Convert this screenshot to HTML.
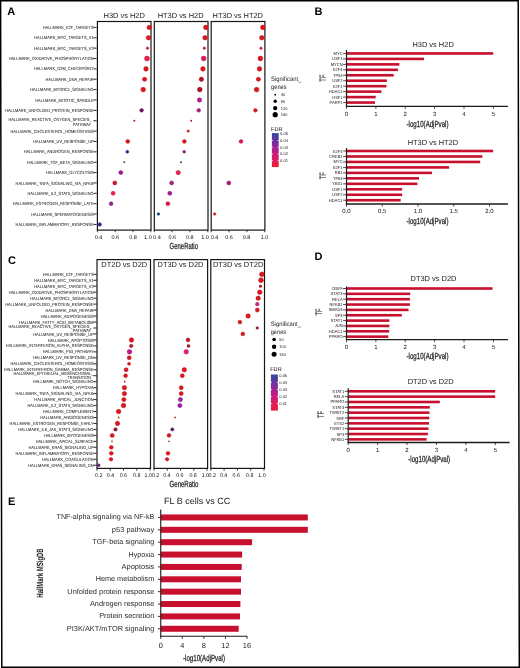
<!DOCTYPE html>
<html><head><meta charset="utf-8"><style>
html,body{margin:0;padding:0;background:#fff;width:520px;height:668px;overflow:hidden}
svg{display:block;font-family:"Liberation Sans", sans-serif;will-change:transform;text-rendering:geometricPrecision}
</style></head><body>
<svg width="520" height="668" viewBox="0 0 520 668">
<rect x="0" y="0" width="520" height="668" fill="#fff"/>
<path d="M0.6,0.75 L518.2,0.75 L519.3,667.2 L1.8,667.2 Z" fill="none" stroke="#000" stroke-width="1.5"/>
<text x="7.30" y="15.20" font-size="11" text-anchor="start" fill="#000" font-weight="bold">A</text>
<text x="314.60" y="15.40" font-size="11" text-anchor="start" fill="#000" font-weight="bold">B</text>
<text x="8.00" y="264.30" font-size="11" text-anchor="start" fill="#000" font-weight="bold">C</text>
<text x="314.60" y="260.00" font-size="11" text-anchor="start" fill="#000" font-weight="bold">D</text>
<text x="8.10" y="505.10" font-size="11" text-anchor="start" fill="#000" font-weight="bold">E</text>
<text x="93.60" y="29.00" font-size="4.5" text-anchor="end" fill="#000" font-weight="normal" textLength="50.9" lengthAdjust="spacingAndGlyphs">HALLMARK_E2F_TARGETS</text>
<line x1="93.40" y1="27.40" x2="96.60" y2="27.40" stroke="#222" stroke-width="0.95"/>
<text x="93.60" y="39.37" font-size="4.5" text-anchor="end" fill="#000" font-weight="normal" textLength="59.4" lengthAdjust="spacingAndGlyphs">HALLMARK_MYC_TARGETS_V1</text>
<line x1="93.40" y1="37.77" x2="96.60" y2="37.77" stroke="#222" stroke-width="0.95"/>
<text x="93.60" y="49.74" font-size="4.5" text-anchor="end" fill="#000" font-weight="normal" textLength="59.4" lengthAdjust="spacingAndGlyphs">HALLMARK_MYC_TARGETS_V2</text>
<line x1="93.40" y1="48.14" x2="96.60" y2="48.14" stroke="#222" stroke-width="0.95"/>
<text x="93.60" y="60.11" font-size="4.5" text-anchor="end" fill="#000" font-weight="normal" textLength="84.96" lengthAdjust="spacingAndGlyphs">HALLMARK_OXIDATIVE_PHOSPHORYLATION</text>
<line x1="93.40" y1="58.51" x2="96.60" y2="58.51" stroke="#222" stroke-width="0.95"/>
<text x="93.60" y="70.48" font-size="4.5" text-anchor="end" fill="#000" font-weight="normal" textLength="59.69" lengthAdjust="spacingAndGlyphs">HALLMARK_G2M_CHECKPOINT</text>
<line x1="93.40" y1="68.88" x2="96.60" y2="68.88" stroke="#222" stroke-width="0.95"/>
<text x="93.60" y="80.85" font-size="4.5" text-anchor="end" fill="#000" font-weight="normal" textLength="48.07" lengthAdjust="spacingAndGlyphs">HALLMARK_DNA_REPAIR</text>
<line x1="93.40" y1="79.25" x2="96.60" y2="79.25" stroke="#222" stroke-width="0.95"/>
<text x="93.60" y="91.22" font-size="4.5" text-anchor="end" fill="#000" font-weight="normal" textLength="63.32" lengthAdjust="spacingAndGlyphs">HALLMARK_MTORC1_SIGNALING</text>
<line x1="93.40" y1="89.62" x2="96.60" y2="89.62" stroke="#222" stroke-width="0.95"/>
<text x="93.60" y="101.59" font-size="4.5" text-anchor="end" fill="#000" font-weight="normal" textLength="58.31" lengthAdjust="spacingAndGlyphs">HALLMARK_MITOTIC_SPINDLE</text>
<line x1="93.40" y1="99.99" x2="96.60" y2="99.99" stroke="#222" stroke-width="0.95"/>
<text x="93.60" y="111.96" font-size="4.5" text-anchor="end" fill="#000" font-weight="normal" textLength="88.44" lengthAdjust="spacingAndGlyphs">HALLMARK_UNFOLDED_PROTEIN_RESPONSE</text>
<line x1="93.40" y1="110.36" x2="96.60" y2="110.36" stroke="#222" stroke-width="0.95"/>
<text x="91.60" y="120.63" font-size="4.5" text-anchor="end" fill="#000" font-weight="normal" textLength="83.22" lengthAdjust="spacingAndGlyphs">HALLMARK_REACTIVE_OXYGEN_SPECIES_</text>
<text x="91.20" y="125.53" font-size="4.5" text-anchor="end" fill="#000" font-weight="normal" textLength="18.37" lengthAdjust="spacingAndGlyphs">PATHWAY</text>
<line x1="93.40" y1="120.73" x2="96.60" y2="120.73" stroke="#222" stroke-width="0.95"/>
<text x="93.60" y="132.70" font-size="4.5" text-anchor="end" fill="#000" font-weight="normal" textLength="83.14" lengthAdjust="spacingAndGlyphs">HALLMARK_CHOLESTEROL_HOMEOSTASIS</text>
<line x1="93.40" y1="131.10" x2="96.60" y2="131.10" stroke="#222" stroke-width="0.95"/>
<text x="93.60" y="143.07" font-size="4.5" text-anchor="end" fill="#000" font-weight="normal" textLength="60.35" lengthAdjust="spacingAndGlyphs">HALLMARK_UV_RESPONSE_UP</text>
<line x1="93.40" y1="141.47" x2="96.60" y2="141.47" stroke="#222" stroke-width="0.95"/>
<text x="93.60" y="153.44" font-size="4.5" text-anchor="end" fill="#000" font-weight="normal" textLength="69.93" lengthAdjust="spacingAndGlyphs">HALLMARK_ANDROGEN_RESPONSE</text>
<line x1="93.40" y1="151.84" x2="96.60" y2="151.84" stroke="#222" stroke-width="0.95"/>
<text x="93.60" y="163.81" font-size="4.5" text-anchor="end" fill="#000" font-weight="normal" textLength="66.8" lengthAdjust="spacingAndGlyphs">HALLMARK_TGF_BETA_SIGNALING</text>
<line x1="93.40" y1="162.21" x2="96.60" y2="162.21" stroke="#222" stroke-width="0.95"/>
<text x="93.60" y="174.18" font-size="4.5" text-anchor="end" fill="#000" font-weight="normal" textLength="47.57" lengthAdjust="spacingAndGlyphs">HALLMARK_GLYCOLYSIS</text>
<line x1="93.40" y1="172.58" x2="96.60" y2="172.58" stroke="#222" stroke-width="0.95"/>
<text x="93.60" y="184.55" font-size="4.5" text-anchor="end" fill="#000" font-weight="normal" textLength="77.99" lengthAdjust="spacingAndGlyphs">HALLMARK_TNFA_SIGNALING_VIA_NFKB</text>
<line x1="93.40" y1="182.95" x2="96.60" y2="182.95" stroke="#222" stroke-width="0.95"/>
<text x="93.60" y="194.92" font-size="4.5" text-anchor="end" fill="#000" font-weight="normal" textLength="66.08" lengthAdjust="spacingAndGlyphs">HALLMARK_IL2_STAT5_SIGNALING</text>
<line x1="93.40" y1="193.32" x2="96.60" y2="193.32" stroke="#222" stroke-width="0.95"/>
<text x="93.60" y="205.29" font-size="4.5" text-anchor="end" fill="#000" font-weight="normal" textLength="80.97" lengthAdjust="spacingAndGlyphs">HALLMARK_ESTROGEN_RESPONSE_LATE</text>
<line x1="93.40" y1="203.69" x2="96.60" y2="203.69" stroke="#222" stroke-width="0.95"/>
<text x="93.60" y="215.66" font-size="4.5" text-anchor="end" fill="#000" font-weight="normal" textLength="62.38" lengthAdjust="spacingAndGlyphs">HALLMARK_SPERMATOGENESIS</text>
<line x1="93.40" y1="214.06" x2="96.60" y2="214.06" stroke="#222" stroke-width="0.95"/>
<text x="93.60" y="226.03" font-size="4.5" text-anchor="end" fill="#000" font-weight="normal" textLength="77.99" lengthAdjust="spacingAndGlyphs">HALLMARK_INFLAMMATORY_RESPONSE</text>
<line x1="93.40" y1="224.43" x2="96.60" y2="224.43" stroke="#222" stroke-width="0.95"/>
<rect x="97.40" y="21.50" width="53.60" height="208.60" fill="none" stroke="#161616" stroke-width="1.2"/>
<text x="124.20" y="17.80" font-size="7.45" text-anchor="middle" fill="#1a1a1a" font-weight="normal">H3D vs H2D</text>
<line x1="97.40" y1="230.10" x2="97.40" y2="232.20" stroke="#222" stroke-width="0.9"/>
<line x1="115.20" y1="230.10" x2="115.20" y2="232.20" stroke="#222" stroke-width="0.9"/>
<line x1="133.00" y1="230.10" x2="133.00" y2="232.20" stroke="#222" stroke-width="0.9"/>
<line x1="150.80" y1="230.10" x2="150.80" y2="232.20" stroke="#222" stroke-width="0.9"/>
<rect x="154.30" y="21.50" width="53.70" height="208.60" fill="none" stroke="#161616" stroke-width="1.2"/>
<text x="180.60" y="17.80" font-size="7.45" text-anchor="middle" fill="#1a1a1a" font-weight="normal">HT3D vs H2D</text>
<line x1="154.30" y1="230.10" x2="154.30" y2="232.20" stroke="#222" stroke-width="0.9"/>
<line x1="172.13" y1="230.10" x2="172.13" y2="232.20" stroke="#222" stroke-width="0.9"/>
<line x1="189.97" y1="230.10" x2="189.97" y2="232.20" stroke="#222" stroke-width="0.9"/>
<line x1="207.80" y1="230.10" x2="207.80" y2="232.20" stroke="#222" stroke-width="0.9"/>
<rect x="211.20" y="21.50" width="53.70" height="208.60" fill="none" stroke="#161616" stroke-width="1.2"/>
<text x="237.80" y="17.80" font-size="7.45" text-anchor="middle" fill="#1a1a1a" font-weight="normal">HT3D vs HT2D</text>
<line x1="211.20" y1="230.10" x2="211.20" y2="232.20" stroke="#222" stroke-width="0.9"/>
<line x1="229.03" y1="230.10" x2="229.03" y2="232.20" stroke="#222" stroke-width="0.9"/>
<line x1="246.87" y1="230.10" x2="246.87" y2="232.20" stroke="#222" stroke-width="0.9"/>
<line x1="264.70" y1="230.10" x2="264.70" y2="232.20" stroke="#222" stroke-width="0.9"/>
<text x="98.60" y="238.70" font-size="5.5" text-anchor="middle" fill="#111" font-weight="normal">0.4</text>
<text x="115.30" y="238.70" font-size="5.5" text-anchor="middle" fill="#111" font-weight="normal">0.6</text>
<text x="133.10" y="238.70" font-size="5.5" text-anchor="middle" fill="#111" font-weight="normal">0.8</text>
<text x="147.90" y="238.70" font-size="5.5" text-anchor="middle" fill="#111" font-weight="normal">1.0</text>
<text x="156.90" y="238.70" font-size="5.5" text-anchor="middle" fill="#111" font-weight="normal">0.4</text>
<text x="172.30" y="238.70" font-size="5.5" text-anchor="middle" fill="#111" font-weight="normal">0.6</text>
<text x="189.80" y="238.70" font-size="5.5" text-anchor="middle" fill="#111" font-weight="normal">0.8</text>
<text x="205.00" y="238.70" font-size="5.5" text-anchor="middle" fill="#111" font-weight="normal">1.0</text>
<text x="214.60" y="238.70" font-size="5.5" text-anchor="middle" fill="#111" font-weight="normal">0.4</text>
<text x="229.00" y="238.70" font-size="5.5" text-anchor="middle" fill="#111" font-weight="normal">0.6</text>
<text x="246.60" y="238.70" font-size="5.5" text-anchor="middle" fill="#111" font-weight="normal">0.8</text>
<text x="264.50" y="238.70" font-size="5.5" text-anchor="middle" fill="#111" font-weight="normal">1.0</text>
<text x="183.80" y="249.00" font-size="8.8" text-anchor="middle" fill="#222" font-weight="normal" textLength="28.4" lengthAdjust="spacingAndGlyphs" stroke="#222" stroke-width="0.25">GeneRatio</text>
<circle cx="149.20" cy="27.40" r="2.20" fill="#e0141c" stroke="#b71016" stroke-width="0.5"/>
<circle cx="148.40" cy="37.77" r="2.20" fill="#e0141c" stroke="#b71016" stroke-width="0.5"/>
<circle cx="147.50" cy="48.14" r="1.20" fill="#e0141c" stroke="#b71016" stroke-width="0.5"/>
<circle cx="147.00" cy="58.51" r="2.50" fill="#e8204c" stroke="#be1a3e" stroke-width="0.5"/>
<circle cx="146.00" cy="68.88" r="2.30" fill="#e0141c" stroke="#b71016" stroke-width="0.5"/>
<circle cx="144.60" cy="79.25" r="2.10" fill="#e0141c" stroke="#b71016" stroke-width="0.5"/>
<circle cx="143.20" cy="89.62" r="2.30" fill="#e0141c" stroke="#b71016" stroke-width="0.5"/>
<circle cx="141.60" cy="110.36" r="1.80" fill="#6a1060" stroke="#560d4e" stroke-width="0.5"/>
<circle cx="134.30" cy="120.73" r="1.00" fill="#b5122a"/>
<circle cx="127.70" cy="141.47" r="1.90" fill="#e0141c" stroke="#b71016" stroke-width="0.5"/>
<circle cx="127.30" cy="151.84" r="1.50" fill="#1c3c8c" stroke="#163172" stroke-width="0.5"/>
<circle cx="124.30" cy="162.21" r="0.90" fill="#1c3c8c"/>
<circle cx="120.80" cy="172.58" r="2.00" fill="#a01890" stroke="#831376" stroke-width="0.5"/>
<circle cx="114.80" cy="182.95" r="2.00" fill="#d01020" stroke="#aa0d1a" stroke-width="0.5"/>
<circle cx="113.10" cy="193.32" r="2.00" fill="#e8204c" stroke="#be1a3e" stroke-width="0.5"/>
<circle cx="111.10" cy="203.69" r="1.90" fill="#902090" stroke="#761a76" stroke-width="0.5"/>
<circle cx="99.70" cy="224.43" r="1.80" fill="#402090" stroke="#341a76" stroke-width="0.5"/>
<circle cx="205.80" cy="27.40" r="2.30" fill="#e0141c" stroke="#b71016" stroke-width="0.5"/>
<circle cx="205.00" cy="37.77" r="2.30" fill="#e0141c" stroke="#b71016" stroke-width="0.5"/>
<circle cx="204.30" cy="48.14" r="1.20" fill="#e0141c" stroke="#b71016" stroke-width="0.5"/>
<circle cx="203.70" cy="58.51" r="2.40" fill="#d81b55" stroke="#b11645" stroke-width="0.5"/>
<circle cx="202.90" cy="68.88" r="2.30" fill="#e0141c" stroke="#b71016" stroke-width="0.5"/>
<circle cx="201.40" cy="79.25" r="2.20" fill="#b5122a" stroke="#940e22" stroke-width="0.5"/>
<circle cx="199.80" cy="89.62" r="2.40" fill="#b01020" stroke="#900d1a" stroke-width="0.5"/>
<circle cx="199.50" cy="99.99" r="2.20" fill="#c0168c" stroke="#9d1272" stroke-width="0.5"/>
<circle cx="198.70" cy="110.36" r="1.80" fill="#b0127e" stroke="#900e67" stroke-width="0.5"/>
<circle cx="191.20" cy="120.73" r="1.00" fill="#b5122a"/>
<circle cx="188.20" cy="131.10" r="1.20" fill="#e0141c" stroke="#b71016" stroke-width="0.5"/>
<circle cx="184.40" cy="141.47" r="1.90" fill="#e0141c" stroke="#b71016" stroke-width="0.5"/>
<circle cx="184.20" cy="151.84" r="1.40" fill="#802080" stroke="#681a68" stroke-width="0.5"/>
<circle cx="181.00" cy="162.21" r="0.90" fill="#501030"/>
<circle cx="178.20" cy="172.58" r="2.20" fill="#e8204c" stroke="#be1a3e" stroke-width="0.5"/>
<circle cx="171.60" cy="182.95" r="2.00" fill="#a0208c" stroke="#831a72" stroke-width="0.5"/>
<circle cx="169.80" cy="193.32" r="2.00" fill="#a0208c" stroke="#831a72" stroke-width="0.5"/>
<circle cx="167.90" cy="203.69" r="2.00" fill="#e01848" stroke="#b7133b" stroke-width="0.5"/>
<circle cx="158.40" cy="214.06" r="1.30" fill="#104080" stroke="#0d3468" stroke-width="0.5"/>
<circle cx="262.80" cy="27.40" r="2.30" fill="#e0141c" stroke="#b71016" stroke-width="0.5"/>
<circle cx="261.80" cy="37.77" r="2.30" fill="#e0141c" stroke="#b71016" stroke-width="0.5"/>
<circle cx="261.00" cy="48.14" r="1.20" fill="#e0141c" stroke="#b71016" stroke-width="0.5"/>
<circle cx="260.40" cy="58.51" r="2.40" fill="#e0141c" stroke="#b71016" stroke-width="0.5"/>
<circle cx="259.50" cy="68.88" r="2.30" fill="#e0141c" stroke="#b71016" stroke-width="0.5"/>
<circle cx="258.40" cy="79.25" r="2.10" fill="#e0141c" stroke="#b71016" stroke-width="0.5"/>
<circle cx="256.60" cy="89.62" r="2.40" fill="#e0141c" stroke="#b71016" stroke-width="0.5"/>
<circle cx="255.40" cy="110.36" r="1.80" fill="#e0141c" stroke="#b71016" stroke-width="0.5"/>
<circle cx="241.00" cy="141.47" r="1.90" fill="#e0186a" stroke="#b71356" stroke-width="0.5"/>
<circle cx="228.80" cy="182.95" r="2.00" fill="#a01888" stroke="#83136f" stroke-width="0.5"/>
<circle cx="214.70" cy="214.06" r="1.20" fill="#e0141c" stroke="#b71016" stroke-width="0.5"/>
<text x="271.10" y="81.20" font-size="6.4" text-anchor="start" fill="#222" font-weight="normal" textLength="30.2" lengthAdjust="spacingAndGlyphs">Significant_</text>
<text x="271.10" y="88.60" font-size="6.4" text-anchor="start" fill="#222" font-weight="normal" textLength="15.5" lengthAdjust="spacingAndGlyphs">genes</text>
<circle cx="275.20" cy="94.70" r="0.90" fill="#000"/>
<text x="280.80" y="96.10" font-size="4.3" text-anchor="start" fill="#222" font-weight="normal" textLength="4.34" lengthAdjust="spacingAndGlyphs">40</text>
<circle cx="275.20" cy="101.30" r="1.70" fill="#000"/>
<text x="280.80" y="102.70" font-size="4.3" text-anchor="start" fill="#222" font-weight="normal" textLength="4.34" lengthAdjust="spacingAndGlyphs">80</text>
<circle cx="275.20" cy="108.10" r="2.20" fill="#000"/>
<text x="280.80" y="109.50" font-size="4.3" text-anchor="start" fill="#222" font-weight="normal" textLength="6.51" lengthAdjust="spacingAndGlyphs">120</text>
<circle cx="275.20" cy="114.70" r="2.60" fill="#000"/>
<text x="280.80" y="116.10" font-size="4.3" text-anchor="start" fill="#222" font-weight="normal" textLength="6.51" lengthAdjust="spacingAndGlyphs">160</text>
<text x="271.10" y="131.20" font-size="5.6" text-anchor="start" fill="#222" font-weight="normal">FDR</text>
<defs><linearGradient id="g133" x1="0" y1="0" x2="0" y2="1"><stop offset="0" stop-color="#3848a2"/><stop offset="0.3" stop-color="#7a2c9c"/><stop offset="0.55" stop-color="#c21a8a"/><stop offset="0.8" stop-color="#e01e5a"/><stop offset="1" stop-color="#ee1c30"/></linearGradient></defs>
<rect x="271.90" y="133.10" width="6.80" height="34.00" fill="url(#g133)"/>
<text x="280.10" y="135.20" font-size="4.3" text-anchor="start" fill="#222" font-weight="normal" textLength="7.8" lengthAdjust="spacingAndGlyphs">0.05</text>
<text x="280.10" y="141.92" font-size="4.3" text-anchor="start" fill="#222" font-weight="normal" textLength="7.8" lengthAdjust="spacingAndGlyphs">0.04</text>
<line x1="271.90" y1="140.52" x2="273.10" y2="140.52" stroke="#fff" stroke-width="0.7"/>
<line x1="277.50" y1="140.52" x2="278.70" y2="140.52" stroke="#fff" stroke-width="0.7"/>
<text x="280.10" y="148.64" font-size="4.3" text-anchor="start" fill="#222" font-weight="normal" textLength="7.8" lengthAdjust="spacingAndGlyphs">0.03</text>
<line x1="271.90" y1="147.24" x2="273.10" y2="147.24" stroke="#fff" stroke-width="0.7"/>
<line x1="277.50" y1="147.24" x2="278.70" y2="147.24" stroke="#fff" stroke-width="0.7"/>
<text x="280.10" y="155.36" font-size="4.3" text-anchor="start" fill="#222" font-weight="normal" textLength="7.8" lengthAdjust="spacingAndGlyphs">0.02</text>
<line x1="271.90" y1="153.96" x2="273.10" y2="153.96" stroke="#fff" stroke-width="0.7"/>
<line x1="277.50" y1="153.96" x2="278.70" y2="153.96" stroke="#fff" stroke-width="0.7"/>
<text x="280.10" y="162.08" font-size="4.3" text-anchor="start" fill="#222" font-weight="normal" textLength="7.8" lengthAdjust="spacingAndGlyphs">0.01</text>
<line x1="271.90" y1="160.68" x2="273.10" y2="160.68" stroke="#fff" stroke-width="0.7"/>
<line x1="277.50" y1="160.68" x2="278.70" y2="160.68" stroke="#fff" stroke-width="0.7"/>
<text x="93.60" y="275.90" font-size="4.5" text-anchor="end" fill="#000" font-weight="normal" textLength="50.9" lengthAdjust="spacingAndGlyphs">HALLMARK_E2F_TARGETS</text>
<line x1="93.40" y1="274.30" x2="96.60" y2="274.30" stroke="#222" stroke-width="0.95"/>
<text x="93.60" y="281.87" font-size="4.5" text-anchor="end" fill="#000" font-weight="normal" textLength="59.4" lengthAdjust="spacingAndGlyphs">HALLMARK_MYC_TARGETS_V1</text>
<line x1="93.40" y1="280.27" x2="96.60" y2="280.27" stroke="#222" stroke-width="0.95"/>
<text x="93.60" y="287.83" font-size="4.5" text-anchor="end" fill="#000" font-weight="normal" textLength="59.4" lengthAdjust="spacingAndGlyphs">HALLMARK_MYC_TARGETS_V2</text>
<line x1="93.40" y1="286.23" x2="96.60" y2="286.23" stroke="#222" stroke-width="0.95"/>
<text x="93.60" y="293.80" font-size="4.5" text-anchor="end" fill="#000" font-weight="normal" textLength="84.96" lengthAdjust="spacingAndGlyphs">HALLMARK_OXIDATIVE_PHOSPHORYLATION</text>
<line x1="93.40" y1="292.20" x2="96.60" y2="292.20" stroke="#222" stroke-width="0.95"/>
<text x="93.60" y="299.76" font-size="4.5" text-anchor="end" fill="#000" font-weight="normal" textLength="63.32" lengthAdjust="spacingAndGlyphs">HALLMARK_MTORC1_SIGNALING</text>
<line x1="93.40" y1="298.16" x2="96.60" y2="298.16" stroke="#222" stroke-width="0.95"/>
<text x="93.60" y="305.73" font-size="4.5" text-anchor="end" fill="#000" font-weight="normal" textLength="88.44" lengthAdjust="spacingAndGlyphs">HALLMARK_UNFOLDED_PROTEIN_RESPONSE</text>
<line x1="93.40" y1="304.13" x2="96.60" y2="304.13" stroke="#222" stroke-width="0.95"/>
<text x="93.60" y="311.70" font-size="4.5" text-anchor="end" fill="#000" font-weight="normal" textLength="48.07" lengthAdjust="spacingAndGlyphs">HALLMARK_DNA_REPAIR</text>
<line x1="93.40" y1="310.10" x2="96.60" y2="310.10" stroke="#222" stroke-width="0.95"/>
<text x="93.60" y="317.66" font-size="4.5" text-anchor="end" fill="#000" font-weight="normal" textLength="52.94" lengthAdjust="spacingAndGlyphs">HALLMARK_ADIPOGENESIS</text>
<line x1="93.40" y1="316.06" x2="96.60" y2="316.06" stroke="#222" stroke-width="0.95"/>
<text x="93.60" y="323.63" font-size="4.5" text-anchor="end" fill="#000" font-weight="normal" textLength="74.35" lengthAdjust="spacingAndGlyphs">HALLMARK_FATTY_ACID_METABOLISM</text>
<line x1="93.40" y1="322.03" x2="96.60" y2="322.03" stroke="#222" stroke-width="0.95"/>
<text x="91.60" y="327.89" font-size="4.5" text-anchor="end" fill="#000" font-weight="normal" textLength="83.22" lengthAdjust="spacingAndGlyphs">HALLMARK_REACTIVE_OXYGEN_SPECIES_</text>
<text x="91.20" y="331.79" font-size="4.5" text-anchor="end" fill="#000" font-weight="normal" textLength="18.37" lengthAdjust="spacingAndGlyphs">PATHWAY</text>
<line x1="93.40" y1="327.99" x2="96.60" y2="327.99" stroke="#222" stroke-width="0.95"/>
<text x="93.60" y="335.56" font-size="4.5" text-anchor="end" fill="#000" font-weight="normal" textLength="60.35" lengthAdjust="spacingAndGlyphs">HALLMARK_UV_RESPONSE_UP</text>
<line x1="93.40" y1="333.96" x2="96.60" y2="333.96" stroke="#222" stroke-width="0.95"/>
<text x="93.60" y="341.53" font-size="4.5" text-anchor="end" fill="#000" font-weight="normal" textLength="45.9" lengthAdjust="spacingAndGlyphs">HALLMARK_APOPTOSIS</text>
<line x1="93.40" y1="339.93" x2="96.60" y2="339.93" stroke="#222" stroke-width="0.95"/>
<text x="93.60" y="347.49" font-size="4.5" text-anchor="end" fill="#000" font-weight="normal" textLength="87.79" lengthAdjust="spacingAndGlyphs">HALLMARK_INTERFERON_ALPHA_RESPONSE</text>
<line x1="93.40" y1="345.89" x2="96.60" y2="345.89" stroke="#222" stroke-width="0.95"/>
<text x="93.60" y="353.46" font-size="4.5" text-anchor="end" fill="#000" font-weight="normal" textLength="50.83" lengthAdjust="spacingAndGlyphs">HALLMARK_P53_PATHWAY</text>
<line x1="93.40" y1="351.86" x2="96.60" y2="351.86" stroke="#222" stroke-width="0.95"/>
<text x="93.60" y="359.42" font-size="4.5" text-anchor="end" fill="#000" font-weight="normal" textLength="60.56" lengthAdjust="spacingAndGlyphs">HALLMARK_UV_RESPONSE_DN</text>
<line x1="93.40" y1="357.82" x2="96.60" y2="357.82" stroke="#222" stroke-width="0.95"/>
<text x="93.60" y="365.39" font-size="4.5" text-anchor="end" fill="#000" font-weight="normal" textLength="83.14" lengthAdjust="spacingAndGlyphs">HALLMARK_CHOLESTEROL_HOMEOSTASIS</text>
<line x1="93.40" y1="363.79" x2="96.60" y2="363.79" stroke="#222" stroke-width="0.95"/>
<text x="93.60" y="371.36" font-size="4.5" text-anchor="end" fill="#000" font-weight="normal" textLength="89.74" lengthAdjust="spacingAndGlyphs">HALLMARK_INTERFERON_GAMMA_RESPONSE</text>
<line x1="93.40" y1="369.76" x2="96.60" y2="369.76" stroke="#222" stroke-width="0.95"/>
<text x="93.60" y="375.32" font-size="4.5" text-anchor="end" fill="#000" font-weight="normal" textLength="80.17" lengthAdjust="spacingAndGlyphs">HALLMARK_EPITHELIAL_MESENCHYMAL_</text>
<text x="91.20" y="379.22" font-size="4.5" text-anchor="end" fill="#000" font-weight="normal" textLength="23.74" lengthAdjust="spacingAndGlyphs">TRANSITION</text>
<line x1="93.40" y1="375.72" x2="96.60" y2="375.72" stroke="#222" stroke-width="0.95"/>
<text x="93.60" y="383.29" font-size="4.5" text-anchor="end" fill="#000" font-weight="normal" textLength="60.77" lengthAdjust="spacingAndGlyphs">HALLMARK_NOTCH_SIGNALING</text>
<line x1="93.40" y1="381.69" x2="96.60" y2="381.69" stroke="#222" stroke-width="0.95"/>
<text x="93.60" y="389.25" font-size="4.5" text-anchor="end" fill="#000" font-weight="normal" textLength="40.74" lengthAdjust="spacingAndGlyphs">HALLMARK_HYPOXIA</text>
<line x1="93.40" y1="387.65" x2="96.60" y2="387.65" stroke="#222" stroke-width="0.95"/>
<text x="93.60" y="395.22" font-size="4.5" text-anchor="end" fill="#000" font-weight="normal" textLength="77.99" lengthAdjust="spacingAndGlyphs">HALLMARK_TNFA_SIGNALING_VIA_NFKB</text>
<line x1="93.40" y1="393.62" x2="96.60" y2="393.62" stroke="#222" stroke-width="0.95"/>
<text x="93.60" y="401.19" font-size="4.5" text-anchor="end" fill="#000" font-weight="normal" textLength="59.25" lengthAdjust="spacingAndGlyphs">HALLMARK_APICAL_JUNCTION</text>
<line x1="93.40" y1="399.59" x2="96.60" y2="399.59" stroke="#222" stroke-width="0.95"/>
<text x="93.60" y="407.15" font-size="4.5" text-anchor="end" fill="#000" font-weight="normal" textLength="66.08" lengthAdjust="spacingAndGlyphs">HALLMARK_IL2_STAT5_SIGNALING</text>
<line x1="93.40" y1="405.55" x2="96.60" y2="405.55" stroke="#222" stroke-width="0.95"/>
<text x="93.60" y="413.12" font-size="4.5" text-anchor="end" fill="#000" font-weight="normal" textLength="50.97" lengthAdjust="spacingAndGlyphs">HALLMARK_COMPLEMENT</text>
<line x1="93.40" y1="411.52" x2="96.60" y2="411.52" stroke="#222" stroke-width="0.95"/>
<text x="93.60" y="419.08" font-size="4.5" text-anchor="end" fill="#000" font-weight="normal" textLength="53.37" lengthAdjust="spacingAndGlyphs">HALLMARK_ANGIOGENESIS</text>
<line x1="93.40" y1="417.48" x2="96.60" y2="417.48" stroke="#222" stroke-width="0.95"/>
<text x="93.60" y="425.05" font-size="4.5" text-anchor="end" fill="#000" font-weight="normal" textLength="84.02" lengthAdjust="spacingAndGlyphs">HALLMARK_ESTROGEN_RESPONSE_EARLY</text>
<line x1="93.40" y1="423.45" x2="96.60" y2="423.45" stroke="#222" stroke-width="0.95"/>
<text x="93.60" y="431.02" font-size="4.5" text-anchor="end" fill="#000" font-weight="normal" textLength="75.45" lengthAdjust="spacingAndGlyphs">HALLMARK_IL6_JAK_STAT3_SIGNALING</text>
<line x1="93.40" y1="429.42" x2="96.60" y2="429.42" stroke="#222" stroke-width="0.95"/>
<text x="93.60" y="436.98" font-size="4.5" text-anchor="end" fill="#000" font-weight="normal" textLength="49.67" lengthAdjust="spacingAndGlyphs">HALLMARK_MYOGENESIS</text>
<line x1="93.40" y1="435.38" x2="96.60" y2="435.38" stroke="#222" stroke-width="0.95"/>
<text x="93.60" y="442.95" font-size="4.5" text-anchor="end" fill="#000" font-weight="normal" textLength="57.95" lengthAdjust="spacingAndGlyphs">HALLMARK_APICAL_SURFACE</text>
<line x1="93.40" y1="441.35" x2="96.60" y2="441.35" stroke="#222" stroke-width="0.95"/>
<text x="93.60" y="448.91" font-size="4.5" text-anchor="end" fill="#000" font-weight="normal" textLength="65.14" lengthAdjust="spacingAndGlyphs">HALLMARK_KRAS_SIGNALING_UP</text>
<line x1="93.40" y1="447.31" x2="96.60" y2="447.31" stroke="#222" stroke-width="0.95"/>
<text x="93.60" y="454.88" font-size="4.5" text-anchor="end" fill="#000" font-weight="normal" textLength="77.99" lengthAdjust="spacingAndGlyphs">HALLMARK_INFLAMMATORY_RESPONSE</text>
<line x1="93.40" y1="453.28" x2="96.60" y2="453.28" stroke="#222" stroke-width="0.95"/>
<text x="93.60" y="460.85" font-size="4.5" text-anchor="end" fill="#000" font-weight="normal" textLength="51.55" lengthAdjust="spacingAndGlyphs">HALLMARK_COAGULATION</text>
<line x1="93.40" y1="459.25" x2="96.60" y2="459.25" stroke="#222" stroke-width="0.95"/>
<text x="93.60" y="466.81" font-size="4.5" text-anchor="end" fill="#000" font-weight="normal" textLength="65.36" lengthAdjust="spacingAndGlyphs">HALLMARK_KRAS_SIGNALING_DN</text>
<line x1="93.40" y1="465.21" x2="96.60" y2="465.21" stroke="#222" stroke-width="0.95"/>
<rect x="97.00" y="259.60" width="53.50" height="208.80" fill="none" stroke="#161616" stroke-width="1.2"/>
<text x="124.30" y="266.80" font-size="7.45" text-anchor="middle" fill="#1a1a1a" font-weight="normal">DT2D vs D2D</text>
<line x1="97.00" y1="468.40" x2="97.00" y2="470.70" stroke="#222" stroke-width="0.9"/>
<line x1="110.25" y1="468.40" x2="110.25" y2="470.70" stroke="#222" stroke-width="0.9"/>
<line x1="123.50" y1="468.40" x2="123.50" y2="470.70" stroke="#222" stroke-width="0.9"/>
<line x1="136.75" y1="468.40" x2="136.75" y2="470.70" stroke="#222" stroke-width="0.9"/>
<line x1="150.00" y1="468.40" x2="150.00" y2="470.70" stroke="#222" stroke-width="0.9"/>
<rect x="154.00" y="259.60" width="53.60" height="208.80" fill="none" stroke="#161616" stroke-width="1.2"/>
<text x="180.50" y="266.80" font-size="7.45" text-anchor="middle" fill="#1a1a1a" font-weight="normal">DT3D vs D2D</text>
<line x1="154.00" y1="468.40" x2="154.00" y2="470.70" stroke="#222" stroke-width="0.9"/>
<line x1="167.28" y1="468.40" x2="167.28" y2="470.70" stroke="#222" stroke-width="0.9"/>
<line x1="180.55" y1="468.40" x2="180.55" y2="470.70" stroke="#222" stroke-width="0.9"/>
<line x1="193.82" y1="468.40" x2="193.82" y2="470.70" stroke="#222" stroke-width="0.9"/>
<line x1="207.10" y1="468.40" x2="207.10" y2="470.70" stroke="#222" stroke-width="0.9"/>
<rect x="210.80" y="259.60" width="53.70" height="208.80" fill="none" stroke="#161616" stroke-width="1.2"/>
<text x="238.10" y="266.80" font-size="7.45" text-anchor="middle" fill="#1a1a1a" font-weight="normal">DT3D vs DT2D</text>
<line x1="210.80" y1="468.40" x2="210.80" y2="470.70" stroke="#222" stroke-width="0.9"/>
<line x1="224.10" y1="468.40" x2="224.10" y2="470.70" stroke="#222" stroke-width="0.9"/>
<line x1="237.40" y1="468.40" x2="237.40" y2="470.70" stroke="#222" stroke-width="0.9"/>
<line x1="250.70" y1="468.40" x2="250.70" y2="470.70" stroke="#222" stroke-width="0.9"/>
<line x1="264.00" y1="468.40" x2="264.00" y2="470.70" stroke="#222" stroke-width="0.9"/>
<text x="98.80" y="477.00" font-size="5.3" text-anchor="middle" fill="#111" font-weight="normal">0.2</text>
<text x="110.50" y="477.00" font-size="5.3" text-anchor="middle" fill="#111" font-weight="normal">0.4</text>
<text x="123.40" y="477.00" font-size="5.3" text-anchor="middle" fill="#111" font-weight="normal">0.6</text>
<text x="136.70" y="477.00" font-size="5.3" text-anchor="middle" fill="#111" font-weight="normal">0.8</text>
<text x="148.30" y="477.00" font-size="5.3" text-anchor="middle" fill="#111" font-weight="normal">1.0</text>
<text x="155.60" y="477.00" font-size="5.3" text-anchor="middle" fill="#111" font-weight="normal">0.2</text>
<text x="166.90" y="477.00" font-size="5.3" text-anchor="middle" fill="#111" font-weight="normal">0.4</text>
<text x="179.90" y="477.00" font-size="5.3" text-anchor="middle" fill="#111" font-weight="normal">0.6</text>
<text x="193.10" y="477.00" font-size="5.3" text-anchor="middle" fill="#111" font-weight="normal">0.8</text>
<text x="205.50" y="477.00" font-size="5.3" text-anchor="middle" fill="#111" font-weight="normal">1.0</text>
<text x="212.20" y="477.00" font-size="5.3" text-anchor="middle" fill="#111" font-weight="normal">0.2</text>
<text x="223.60" y="477.00" font-size="5.3" text-anchor="middle" fill="#111" font-weight="normal">0.4</text>
<text x="236.30" y="477.00" font-size="5.3" text-anchor="middle" fill="#111" font-weight="normal">0.6</text>
<text x="249.80" y="477.00" font-size="5.3" text-anchor="middle" fill="#111" font-weight="normal">0.8</text>
<text x="262.00" y="477.00" font-size="5.3" text-anchor="middle" fill="#111" font-weight="normal">1.0</text>
<text x="184.00" y="486.60" font-size="8.8" text-anchor="middle" fill="#222" font-weight="normal" textLength="28.8" lengthAdjust="spacingAndGlyphs" stroke="#222" stroke-width="0.25">GeneRatio</text>
<circle cx="131.50" cy="339.93" r="2.30" fill="#e0141c" stroke="#b71016" stroke-width="0.5"/>
<circle cx="131.20" cy="345.89" r="1.70" fill="#b5122a" stroke="#940e22" stroke-width="0.5"/>
<circle cx="129.50" cy="351.86" r="2.30" fill="#c0168c" stroke="#9d1272" stroke-width="0.5"/>
<circle cx="129.20" cy="357.82" r="2.00" fill="#d01818" stroke="#aa1313" stroke-width="0.5"/>
<circle cx="129.00" cy="363.79" r="1.50" fill="#e0141c" stroke="#b71016" stroke-width="0.5"/>
<circle cx="126.10" cy="369.76" r="2.00" fill="#e0141c" stroke="#b71016" stroke-width="0.5"/>
<circle cx="125.60" cy="375.72" r="1.90" fill="#e0141c" stroke="#b71016" stroke-width="0.5"/>
<circle cx="124.70" cy="381.69" r="0.90" fill="#e0141c"/>
<circle cx="124.40" cy="387.65" r="2.20" fill="#e0141c" stroke="#b71016" stroke-width="0.5"/>
<circle cx="124.40" cy="393.62" r="2.20" fill="#e0141c" stroke="#b71016" stroke-width="0.5"/>
<circle cx="123.90" cy="399.59" r="2.10" fill="#e0141c" stroke="#b71016" stroke-width="0.5"/>
<circle cx="123.50" cy="405.55" r="2.30" fill="#e0141c" stroke="#b71016" stroke-width="0.5"/>
<circle cx="118.60" cy="411.52" r="2.30" fill="#e0141c" stroke="#b71016" stroke-width="0.5"/>
<circle cx="118.60" cy="417.48" r="0.90" fill="#a0440f"/>
<circle cx="117.50" cy="423.45" r="2.20" fill="#e0141c" stroke="#b71016" stroke-width="0.5"/>
<circle cx="115.50" cy="429.42" r="1.70" fill="#901020" stroke="#760d1a" stroke-width="0.5"/>
<circle cx="112.20" cy="435.38" r="2.00" fill="#e0141c" stroke="#b71016" stroke-width="0.5"/>
<circle cx="112.00" cy="441.35" r="0.90" fill="#a0440f"/>
<circle cx="111.30" cy="447.31" r="1.90" fill="#e0141c" stroke="#b71016" stroke-width="0.5"/>
<circle cx="111.30" cy="453.28" r="1.90" fill="#e0141c" stroke="#b71016" stroke-width="0.5"/>
<circle cx="111.00" cy="459.25" r="1.80" fill="#e0141c" stroke="#b71016" stroke-width="0.5"/>
<circle cx="98.60" cy="465.21" r="1.50" fill="#702080" stroke="#5b1a68" stroke-width="0.5"/>
<circle cx="188.00" cy="339.93" r="1.90" fill="#c01020" stroke="#9d0d1a" stroke-width="0.5"/>
<circle cx="188.50" cy="345.89" r="1.50" fill="#b01020" stroke="#900d1a" stroke-width="0.5"/>
<circle cx="186.20" cy="351.86" r="2.30" fill="#e0207a" stroke="#b71a64" stroke-width="0.5"/>
<circle cx="184.30" cy="369.76" r="2.20" fill="#e0141c" stroke="#b71016" stroke-width="0.5"/>
<circle cx="182.30" cy="375.72" r="2.00" fill="#e0141c" stroke="#b71016" stroke-width="0.5"/>
<circle cx="181.20" cy="387.65" r="2.00" fill="#e0141c" stroke="#b71016" stroke-width="0.5"/>
<circle cx="181.20" cy="393.62" r="2.00" fill="#e0141c" stroke="#b71016" stroke-width="0.5"/>
<circle cx="180.40" cy="399.59" r="2.10" fill="#a020a0" stroke="#831a83" stroke-width="0.5"/>
<circle cx="179.90" cy="405.55" r="2.10" fill="#a020a0" stroke="#831a83" stroke-width="0.5"/>
<circle cx="175.00" cy="417.48" r="0.90" fill="#a0440f"/>
<circle cx="172.30" cy="429.42" r="1.60" fill="#602070" stroke="#4e1a5b" stroke-width="0.5"/>
<circle cx="169.00" cy="435.38" r="1.90" fill="#e0141c" stroke="#b71016" stroke-width="0.5"/>
<circle cx="169.00" cy="441.35" r="0.90" fill="#a0440f"/>
<circle cx="168.00" cy="453.28" r="1.90" fill="#e0141c" stroke="#b71016" stroke-width="0.5"/>
<circle cx="167.10" cy="459.25" r="1.70" fill="#e0141c" stroke="#b71016" stroke-width="0.5"/>
<circle cx="261.90" cy="274.30" r="2.40" fill="#e0141c" stroke="#b71016" stroke-width="0.5"/>
<circle cx="261.00" cy="280.27" r="2.40" fill="#e0141c" stroke="#b71016" stroke-width="0.5"/>
<circle cx="260.50" cy="286.23" r="1.30" fill="#b5122a" stroke="#940e22" stroke-width="0.5"/>
<circle cx="259.80" cy="292.20" r="2.30" fill="#e0141c" stroke="#b71016" stroke-width="0.5"/>
<circle cx="258.20" cy="298.16" r="2.20" fill="#e0141c" stroke="#b71016" stroke-width="0.5"/>
<circle cx="257.30" cy="304.13" r="1.80" fill="#d0208a" stroke="#aa1a71" stroke-width="0.5"/>
<circle cx="257.30" cy="310.10" r="2.00" fill="#e0141c" stroke="#b71016" stroke-width="0.5"/>
<circle cx="248.10" cy="316.06" r="2.20" fill="#e0141c" stroke="#b71016" stroke-width="0.5"/>
<circle cx="239.90" cy="322.03" r="1.90" fill="#e0141c" stroke="#b71016" stroke-width="0.5"/>
<circle cx="257.30" cy="327.99" r="1.30" fill="#b5122a" stroke="#940e22" stroke-width="0.5"/>
<circle cx="242.80" cy="333.96" r="1.90" fill="#e0141c" stroke="#b71016" stroke-width="0.5"/>
<text x="270.70" y="326.40" font-size="6.4" text-anchor="start" fill="#222" font-weight="normal" textLength="30.2" lengthAdjust="spacingAndGlyphs">Significant_</text>
<text x="270.70" y="333.80" font-size="6.4" text-anchor="start" fill="#222" font-weight="normal" textLength="15.5" lengthAdjust="spacingAndGlyphs">genes</text>
<circle cx="274.10" cy="339.50" r="1.80" fill="#000"/>
<text x="279.30" y="340.90" font-size="4.3" text-anchor="start" fill="#222" font-weight="normal" textLength="4.34" lengthAdjust="spacingAndGlyphs">50</text>
<circle cx="274.10" cy="346.80" r="2.20" fill="#000"/>
<text x="279.30" y="348.20" font-size="4.3" text-anchor="start" fill="#222" font-weight="normal" textLength="6.51" lengthAdjust="spacingAndGlyphs">100</text>
<circle cx="274.10" cy="354.30" r="2.50" fill="#000"/>
<text x="279.30" y="355.70" font-size="4.3" text-anchor="start" fill="#222" font-weight="normal" textLength="6.51" lengthAdjust="spacingAndGlyphs">150</text>
<text x="270.20" y="371.40" font-size="5.6" text-anchor="start" fill="#222" font-weight="normal">FDR</text>
<defs><linearGradient id="g374" x1="0" y1="0" x2="0" y2="1"><stop offset="0" stop-color="#3848a2"/><stop offset="0.3" stop-color="#7a2c9c"/><stop offset="0.55" stop-color="#c21a8a"/><stop offset="0.8" stop-color="#e01e5a"/><stop offset="1" stop-color="#ee1c30"/></linearGradient></defs>
<rect x="270.90" y="374.50" width="7.00" height="36.10" fill="url(#g374)"/>
<text x="279.30" y="376.70" font-size="4.3" text-anchor="start" fill="#222" font-weight="normal" textLength="7.8" lengthAdjust="spacingAndGlyphs">0.05</text>
<text x="279.30" y="383.78" font-size="4.3" text-anchor="start" fill="#222" font-weight="normal" textLength="7.8" lengthAdjust="spacingAndGlyphs">0.04</text>
<line x1="270.90" y1="382.38" x2="272.10" y2="382.38" stroke="#fff" stroke-width="0.7"/>
<line x1="276.70" y1="382.38" x2="277.90" y2="382.38" stroke="#fff" stroke-width="0.7"/>
<text x="279.30" y="390.86" font-size="4.3" text-anchor="start" fill="#222" font-weight="normal" textLength="7.8" lengthAdjust="spacingAndGlyphs">0.03</text>
<line x1="270.90" y1="389.46" x2="272.10" y2="389.46" stroke="#fff" stroke-width="0.7"/>
<line x1="276.70" y1="389.46" x2="277.90" y2="389.46" stroke="#fff" stroke-width="0.7"/>
<text x="279.30" y="397.94" font-size="4.3" text-anchor="start" fill="#222" font-weight="normal" textLength="7.8" lengthAdjust="spacingAndGlyphs">0.02</text>
<line x1="270.90" y1="396.54" x2="272.10" y2="396.54" stroke="#fff" stroke-width="0.7"/>
<line x1="276.70" y1="396.54" x2="277.90" y2="396.54" stroke="#fff" stroke-width="0.7"/>
<text x="279.30" y="405.02" font-size="4.3" text-anchor="start" fill="#222" font-weight="normal" textLength="7.8" lengthAdjust="spacingAndGlyphs">0.01</text>
<line x1="270.90" y1="403.62" x2="272.10" y2="403.62" stroke="#fff" stroke-width="0.7"/>
<line x1="276.70" y1="403.62" x2="277.90" y2="403.62" stroke="#fff" stroke-width="0.7"/>
<rect x="346.50" y="52.15" width="146.70" height="2.60" fill="#c8102e"/>
<text x="342.60" y="54.95" font-size="4.4" text-anchor="end" fill="#111" font-weight="normal" textLength="9.0" lengthAdjust="spacingAndGlyphs">MYC</text>
<line x1="343.10" y1="53.45" x2="346.50" y2="53.45" stroke="#222" stroke-width="0.8"/>
<rect x="346.50" y="57.61" width="77.50" height="2.60" fill="#c8102e"/>
<text x="342.60" y="60.41" font-size="4.4" text-anchor="end" fill="#111" font-weight="normal" textLength="10.35" lengthAdjust="spacingAndGlyphs">USF1</text>
<line x1="343.10" y1="58.91" x2="346.50" y2="58.91" stroke="#222" stroke-width="0.8"/>
<rect x="346.50" y="63.06" width="52.90" height="2.60" fill="#c8102e"/>
<text x="342.60" y="65.86" font-size="4.4" text-anchor="end" fill="#111" font-weight="normal" textLength="11.92" lengthAdjust="spacingAndGlyphs">MYCN</text>
<line x1="343.10" y1="64.36" x2="346.50" y2="64.36" stroke="#222" stroke-width="0.8"/>
<rect x="346.50" y="68.52" width="51.40" height="2.60" fill="#c8102e"/>
<text x="342.60" y="71.31" font-size="4.4" text-anchor="end" fill="#111" font-weight="normal" textLength="9.68" lengthAdjust="spacingAndGlyphs">E2F4</text>
<line x1="343.10" y1="69.81" x2="346.50" y2="69.81" stroke="#222" stroke-width="0.8"/>
<rect x="346.50" y="73.97" width="47.20" height="2.60" fill="#c8102e"/>
<text x="342.60" y="76.77" font-size="4.4" text-anchor="end" fill="#111" font-weight="normal" textLength="9.68" lengthAdjust="spacingAndGlyphs">TP53</text>
<line x1="343.10" y1="75.27" x2="346.50" y2="75.27" stroke="#222" stroke-width="0.8"/>
<rect x="346.50" y="79.42" width="40.40" height="2.60" fill="#c8102e"/>
<text x="342.60" y="82.22" font-size="4.4" text-anchor="end" fill="#111" font-weight="normal" textLength="10.35" lengthAdjust="spacingAndGlyphs">USF2</text>
<line x1="343.10" y1="80.72" x2="346.50" y2="80.72" stroke="#222" stroke-width="0.8"/>
<rect x="346.50" y="84.88" width="39.90" height="2.60" fill="#c8102e"/>
<text x="342.60" y="87.68" font-size="4.4" text-anchor="end" fill="#111" font-weight="normal" textLength="9.68" lengthAdjust="spacingAndGlyphs">E2F1</text>
<line x1="343.10" y1="86.18" x2="346.50" y2="86.18" stroke="#222" stroke-width="0.8"/>
<rect x="346.50" y="90.34" width="34.90" height="2.60" fill="#c8102e"/>
<text x="342.60" y="93.14" font-size="4.4" text-anchor="end" fill="#111" font-weight="normal" textLength="13.73" lengthAdjust="spacingAndGlyphs">HDAC1</text>
<line x1="343.10" y1="91.64" x2="346.50" y2="91.64" stroke="#222" stroke-width="0.8"/>
<rect x="346.50" y="95.79" width="29.20" height="2.60" fill="#c8102e"/>
<text x="342.60" y="98.59" font-size="4.4" text-anchor="end" fill="#111" font-weight="normal" textLength="10.35" lengthAdjust="spacingAndGlyphs">HSF1</text>
<line x1="343.10" y1="97.09" x2="346.50" y2="97.09" stroke="#222" stroke-width="0.8"/>
<rect x="346.50" y="101.25" width="28.50" height="2.60" fill="#c8102e"/>
<text x="342.60" y="104.05" font-size="4.4" text-anchor="end" fill="#111" font-weight="normal" textLength="12.98" lengthAdjust="spacingAndGlyphs">PARP1</text>
<line x1="343.10" y1="102.55" x2="346.50" y2="102.55" stroke="#222" stroke-width="0.8"/>
<line x1="346.50" y1="50.00" x2="346.50" y2="106.90" stroke="#1a1a1a" stroke-width="1.2"/>
<line x1="345.90" y1="106.30" x2="507.90" y2="106.30" stroke="#1a1a1a" stroke-width="1.3"/>
<line x1="346.50" y1="106.30" x2="346.50" y2="108.90" stroke="#222" stroke-width="0.8"/>
<text x="346.50" y="115.60" font-size="6.0" text-anchor="middle" fill="#111" font-weight="normal">0</text>
<line x1="375.88" y1="106.30" x2="375.88" y2="108.90" stroke="#222" stroke-width="0.8"/>
<text x="375.88" y="115.60" font-size="6.0" text-anchor="middle" fill="#111" font-weight="normal">1</text>
<line x1="405.26" y1="106.30" x2="405.26" y2="108.90" stroke="#222" stroke-width="0.8"/>
<text x="405.26" y="115.60" font-size="6.0" text-anchor="middle" fill="#111" font-weight="normal">2</text>
<line x1="434.64" y1="106.30" x2="434.64" y2="108.90" stroke="#222" stroke-width="0.8"/>
<text x="434.64" y="115.60" font-size="6.0" text-anchor="middle" fill="#111" font-weight="normal">3</text>
<line x1="464.02" y1="106.30" x2="464.02" y2="108.90" stroke="#222" stroke-width="0.8"/>
<text x="464.02" y="115.60" font-size="6.0" text-anchor="middle" fill="#111" font-weight="normal">4</text>
<line x1="493.40" y1="106.30" x2="493.40" y2="108.90" stroke="#222" stroke-width="0.8"/>
<text x="493.40" y="115.60" font-size="6.0" text-anchor="middle" fill="#111" font-weight="normal">5</text>
<text x="433.10" y="47.10" font-size="7.45" text-anchor="middle" fill="#1a1a1a" font-weight="normal">H3D vs H2D</text>
<text x="427.50" y="126.50" font-size="8.8" text-anchor="middle" fill="#222" font-weight="normal" textLength="41.9" lengthAdjust="spacingAndGlyphs" stroke="#222" stroke-width="0.25">-log10(AdjPval)</text>
<text x="0" y="0" font-size="9.2" text-anchor="middle" fill="#1a1a1a" stroke="#1a1a1a" stroke-width="0.15" textLength="7.1" lengthAdjust="spacingAndGlyphs" transform="translate(326.00,78.10) rotate(-90)">TF</text>
<rect x="346.50" y="149.70" width="146.60" height="2.60" fill="#c8102e"/>
<text x="342.60" y="152.50" font-size="4.4" text-anchor="end" fill="#111" font-weight="normal" textLength="9.68" lengthAdjust="spacingAndGlyphs">E2F4</text>
<line x1="343.10" y1="151.00" x2="346.50" y2="151.00" stroke="#222" stroke-width="0.8"/>
<rect x="346.50" y="155.17" width="135.80" height="2.60" fill="#c8102e"/>
<text x="342.60" y="157.97" font-size="4.4" text-anchor="end" fill="#111" font-weight="normal" textLength="13.5" lengthAdjust="spacingAndGlyphs">CREB1</text>
<line x1="343.10" y1="156.47" x2="346.50" y2="156.47" stroke="#222" stroke-width="0.8"/>
<rect x="346.50" y="160.64" width="133.70" height="2.60" fill="#c8102e"/>
<text x="342.60" y="163.44" font-size="4.4" text-anchor="end" fill="#111" font-weight="normal" textLength="9.0" lengthAdjust="spacingAndGlyphs">MYC</text>
<line x1="343.10" y1="161.94" x2="346.50" y2="161.94" stroke="#222" stroke-width="0.8"/>
<rect x="346.50" y="166.11" width="102.70" height="2.60" fill="#c8102e"/>
<text x="342.60" y="168.91" font-size="4.4" text-anchor="end" fill="#111" font-weight="normal" textLength="9.68" lengthAdjust="spacingAndGlyphs">E2F1</text>
<line x1="343.10" y1="167.41" x2="346.50" y2="167.41" stroke="#222" stroke-width="0.8"/>
<rect x="346.50" y="171.58" width="85.50" height="2.60" fill="#c8102e"/>
<text x="342.60" y="174.38" font-size="4.4" text-anchor="end" fill="#111" font-weight="normal" textLength="7.88" lengthAdjust="spacingAndGlyphs">RB1</text>
<line x1="343.10" y1="172.88" x2="346.50" y2="172.88" stroke="#222" stroke-width="0.8"/>
<rect x="346.50" y="177.05" width="72.50" height="2.60" fill="#c8102e"/>
<text x="342.60" y="179.85" font-size="4.4" text-anchor="end" fill="#111" font-weight="normal" textLength="9.68" lengthAdjust="spacingAndGlyphs">TP53</text>
<line x1="343.10" y1="178.35" x2="346.50" y2="178.35" stroke="#222" stroke-width="0.8"/>
<rect x="346.50" y="182.52" width="70.90" height="2.60" fill="#c8102e"/>
<text x="342.60" y="185.32" font-size="4.4" text-anchor="end" fill="#111" font-weight="normal" textLength="10.36" lengthAdjust="spacingAndGlyphs">YBX1</text>
<line x1="343.10" y1="183.82" x2="346.50" y2="183.82" stroke="#222" stroke-width="0.8"/>
<rect x="346.50" y="187.99" width="55.60" height="2.60" fill="#c8102e"/>
<text x="342.60" y="190.79" font-size="4.4" text-anchor="end" fill="#111" font-weight="normal" textLength="10.35" lengthAdjust="spacingAndGlyphs">USF1</text>
<line x1="343.10" y1="189.29" x2="346.50" y2="189.29" stroke="#222" stroke-width="0.8"/>
<rect x="346.50" y="193.46" width="55.60" height="2.60" fill="#c8102e"/>
<text x="342.60" y="196.26" font-size="4.4" text-anchor="end" fill="#111" font-weight="normal" textLength="10.35" lengthAdjust="spacingAndGlyphs">USF2</text>
<line x1="343.10" y1="194.76" x2="346.50" y2="194.76" stroke="#222" stroke-width="0.8"/>
<rect x="346.50" y="198.93" width="54.20" height="2.60" fill="#c8102e"/>
<text x="342.60" y="201.73" font-size="4.4" text-anchor="end" fill="#111" font-weight="normal" textLength="13.73" lengthAdjust="spacingAndGlyphs">HDAC1</text>
<line x1="343.10" y1="200.23" x2="346.50" y2="200.23" stroke="#222" stroke-width="0.8"/>
<line x1="346.50" y1="148.10" x2="346.50" y2="204.60" stroke="#1a1a1a" stroke-width="1.2"/>
<line x1="345.90" y1="204.00" x2="507.90" y2="204.00" stroke="#1a1a1a" stroke-width="1.3"/>
<line x1="346.50" y1="204.00" x2="346.50" y2="206.60" stroke="#222" stroke-width="0.8"/>
<text x="346.50" y="212.80" font-size="6.0" text-anchor="middle" fill="#111" font-weight="normal">0.0</text>
<line x1="382.25" y1="204.00" x2="382.25" y2="206.60" stroke="#222" stroke-width="0.8"/>
<text x="382.25" y="212.80" font-size="6.0" text-anchor="middle" fill="#111" font-weight="normal">0.5</text>
<line x1="418.00" y1="204.00" x2="418.00" y2="206.60" stroke="#222" stroke-width="0.8"/>
<text x="418.00" y="212.80" font-size="6.0" text-anchor="middle" fill="#111" font-weight="normal">1.0</text>
<line x1="453.75" y1="204.00" x2="453.75" y2="206.60" stroke="#222" stroke-width="0.8"/>
<text x="453.75" y="212.80" font-size="6.0" text-anchor="middle" fill="#111" font-weight="normal">1.5</text>
<line x1="489.50" y1="204.00" x2="489.50" y2="206.60" stroke="#222" stroke-width="0.8"/>
<text x="489.50" y="212.80" font-size="6.0" text-anchor="middle" fill="#111" font-weight="normal">2.0</text>
<text x="432.90" y="145.00" font-size="7.45" text-anchor="middle" fill="#1a1a1a" font-weight="normal">HT3D vs HT2D</text>
<text x="427.50" y="223.80" font-size="8.8" text-anchor="middle" fill="#222" font-weight="normal" textLength="41.9" lengthAdjust="spacingAndGlyphs" stroke="#222" stroke-width="0.25">-log10(AdjPval)</text>
<text x="0" y="0" font-size="9.2" text-anchor="middle" fill="#1a1a1a" stroke="#1a1a1a" stroke-width="0.15" textLength="7.1" lengthAdjust="spacingAndGlyphs" transform="translate(325.90,175.70) rotate(-90)">TF</text>
<rect x="346.50" y="287.20" width="146.00" height="2.60" fill="#c8102e"/>
<text x="342.60" y="290.00" font-size="4.4" text-anchor="end" fill="#111" font-weight="normal" textLength="10.9" lengthAdjust="spacingAndGlyphs">CEBPA</text>
<line x1="343.10" y1="288.50" x2="346.50" y2="288.50" stroke="#222" stroke-width="0.8"/>
<rect x="346.50" y="292.55" width="63.70" height="2.60" fill="#c8102e"/>
<text x="342.60" y="295.35" font-size="4.4" text-anchor="end" fill="#111" font-weight="normal" textLength="12.0" lengthAdjust="spacingAndGlyphs">STAT3</text>
<line x1="343.10" y1="293.85" x2="346.50" y2="293.85" stroke="#222" stroke-width="0.8"/>
<rect x="346.50" y="297.90" width="63.40" height="2.60" fill="#c8102e"/>
<text x="342.60" y="300.70" font-size="4.4" text-anchor="end" fill="#111" font-weight="normal" textLength="10.58" lengthAdjust="spacingAndGlyphs">RELA</text>
<line x1="343.10" y1="299.20" x2="346.50" y2="299.20" stroke="#222" stroke-width="0.8"/>
<rect x="346.50" y="303.25" width="63.40" height="2.60" fill="#c8102e"/>
<text x="342.60" y="306.05" font-size="4.4" text-anchor="end" fill="#111" font-weight="normal" textLength="13.05" lengthAdjust="spacingAndGlyphs">NFKB1</text>
<line x1="343.10" y1="304.55" x2="346.50" y2="304.55" stroke="#222" stroke-width="0.8"/>
<rect x="346.50" y="308.60" width="62.00" height="2.60" fill="#c8102e"/>
<text x="342.60" y="311.40" font-size="4.4" text-anchor="end" fill="#111" font-weight="normal" textLength="13.95" lengthAdjust="spacingAndGlyphs">SMAD3</text>
<line x1="343.10" y1="309.90" x2="346.50" y2="309.90" stroke="#222" stroke-width="0.8"/>
<rect x="346.50" y="313.95" width="55.30" height="2.60" fill="#c8102e"/>
<text x="342.60" y="316.75" font-size="4.4" text-anchor="end" fill="#111" font-weight="normal" textLength="7.66" lengthAdjust="spacingAndGlyphs">SP3</text>
<line x1="343.10" y1="315.25" x2="346.50" y2="315.25" stroke="#222" stroke-width="0.8"/>
<rect x="346.50" y="319.30" width="42.90" height="2.60" fill="#c8102e"/>
<text x="342.60" y="322.10" font-size="4.4" text-anchor="end" fill="#111" font-weight="normal" textLength="12.0" lengthAdjust="spacingAndGlyphs">STAT1</text>
<line x1="343.10" y1="320.60" x2="346.50" y2="320.60" stroke="#222" stroke-width="0.8"/>
<rect x="346.50" y="324.65" width="42.90" height="2.60" fill="#c8102e"/>
<text x="342.60" y="327.45" font-size="4.4" text-anchor="end" fill="#111" font-weight="normal" textLength="7.87" lengthAdjust="spacingAndGlyphs">JUN</text>
<line x1="343.10" y1="325.95" x2="346.50" y2="325.95" stroke="#222" stroke-width="0.8"/>
<rect x="346.50" y="330.00" width="42.70" height="2.60" fill="#c8102e"/>
<text x="342.60" y="332.80" font-size="4.4" text-anchor="end" fill="#111" font-weight="normal" textLength="13.73" lengthAdjust="spacingAndGlyphs">HDAC1</text>
<line x1="343.10" y1="331.30" x2="346.50" y2="331.30" stroke="#222" stroke-width="0.8"/>
<rect x="346.50" y="335.35" width="41.80" height="2.60" fill="#c8102e"/>
<text x="342.60" y="338.15" font-size="4.4" text-anchor="end" fill="#111" font-weight="normal" textLength="13.88" lengthAdjust="spacingAndGlyphs">PPARG</text>
<line x1="343.10" y1="336.65" x2="346.50" y2="336.65" stroke="#222" stroke-width="0.8"/>
<line x1="346.50" y1="286.50" x2="346.50" y2="340.20" stroke="#1a1a1a" stroke-width="1.2"/>
<line x1="345.90" y1="339.60" x2="507.90" y2="339.60" stroke="#1a1a1a" stroke-width="1.3"/>
<line x1="346.50" y1="339.60" x2="346.50" y2="342.20" stroke="#222" stroke-width="0.8"/>
<text x="346.50" y="349.20" font-size="6.0" text-anchor="middle" fill="#111" font-weight="normal">0</text>
<line x1="375.88" y1="339.60" x2="375.88" y2="342.20" stroke="#222" stroke-width="0.8"/>
<text x="375.88" y="349.20" font-size="6.0" text-anchor="middle" fill="#111" font-weight="normal">1</text>
<line x1="405.26" y1="339.60" x2="405.26" y2="342.20" stroke="#222" stroke-width="0.8"/>
<text x="405.26" y="349.20" font-size="6.0" text-anchor="middle" fill="#111" font-weight="normal">2</text>
<line x1="434.64" y1="339.60" x2="434.64" y2="342.20" stroke="#222" stroke-width="0.8"/>
<text x="434.64" y="349.20" font-size="6.0" text-anchor="middle" fill="#111" font-weight="normal">3</text>
<line x1="464.02" y1="339.60" x2="464.02" y2="342.20" stroke="#222" stroke-width="0.8"/>
<text x="464.02" y="349.20" font-size="6.0" text-anchor="middle" fill="#111" font-weight="normal">4</text>
<line x1="493.40" y1="339.60" x2="493.40" y2="342.20" stroke="#222" stroke-width="0.8"/>
<text x="493.40" y="349.20" font-size="6.0" text-anchor="middle" fill="#111" font-weight="normal">5</text>
<text x="433.50" y="281.00" font-size="7.45" text-anchor="middle" fill="#1a1a1a" font-weight="normal">DT3D vs D2D</text>
<text x="427.50" y="359.00" font-size="8.8" text-anchor="middle" fill="#222" font-weight="normal" textLength="41.9" lengthAdjust="spacingAndGlyphs" stroke="#222" stroke-width="0.25">-log10(AdjPval)</text>
<text x="0" y="0" font-size="9.2" text-anchor="middle" fill="#1a1a1a" stroke="#1a1a1a" stroke-width="0.15" textLength="7.1" lengthAdjust="spacingAndGlyphs" transform="translate(322.40,312.00) rotate(-90)">TF</text>
<rect x="348.20" y="390.00" width="147.00" height="2.60" fill="#c8102e"/>
<text x="344.30" y="392.80" font-size="4.4" text-anchor="end" fill="#111" font-weight="normal" textLength="12.0" lengthAdjust="spacingAndGlyphs">STAT1</text>
<line x1="344.80" y1="391.30" x2="348.20" y2="391.30" stroke="#222" stroke-width="0.8"/>
<rect x="348.20" y="395.34" width="147.00" height="2.60" fill="#c8102e"/>
<text x="344.30" y="398.14" font-size="4.4" text-anchor="end" fill="#111" font-weight="normal" textLength="10.58" lengthAdjust="spacingAndGlyphs">RELA</text>
<line x1="344.80" y1="396.64" x2="348.20" y2="396.64" stroke="#222" stroke-width="0.8"/>
<rect x="348.20" y="400.68" width="91.60" height="2.60" fill="#c8102e"/>
<text x="344.30" y="403.48" font-size="4.4" text-anchor="end" fill="#111" font-weight="normal" textLength="13.88" lengthAdjust="spacingAndGlyphs">PPARG</text>
<line x1="344.80" y1="401.98" x2="348.20" y2="401.98" stroke="#222" stroke-width="0.8"/>
<rect x="348.20" y="406.02" width="81.60" height="2.60" fill="#c8102e"/>
<text x="344.30" y="408.82" font-size="4.4" text-anchor="end" fill="#111" font-weight="normal" textLength="12.0" lengthAdjust="spacingAndGlyphs">STAT3</text>
<line x1="344.80" y1="407.32" x2="348.20" y2="407.32" stroke="#222" stroke-width="0.8"/>
<rect x="348.20" y="411.36" width="81.30" height="2.60" fill="#c8102e"/>
<text x="344.30" y="414.16" font-size="4.4" text-anchor="end" fill="#111" font-weight="normal" textLength="14.85" lengthAdjust="spacingAndGlyphs">TWIST2</text>
<line x1="344.80" y1="412.66" x2="348.20" y2="412.66" stroke="#222" stroke-width="0.8"/>
<rect x="348.20" y="416.70" width="81.10" height="2.60" fill="#c8102e"/>
<text x="344.30" y="419.50" font-size="4.4" text-anchor="end" fill="#111" font-weight="normal" textLength="8.1" lengthAdjust="spacingAndGlyphs">SRF</text>
<line x1="344.80" y1="418.00" x2="348.20" y2="418.00" stroke="#222" stroke-width="0.8"/>
<rect x="348.20" y="422.04" width="80.80" height="2.60" fill="#c8102e"/>
<text x="344.30" y="424.84" font-size="4.4" text-anchor="end" fill="#111" font-weight="normal" textLength="10.13" lengthAdjust="spacingAndGlyphs">ETS2</text>
<line x1="344.80" y1="423.34" x2="348.20" y2="423.34" stroke="#222" stroke-width="0.8"/>
<rect x="348.20" y="427.38" width="80.30" height="2.60" fill="#c8102e"/>
<text x="344.30" y="430.18" font-size="4.4" text-anchor="end" fill="#111" font-weight="normal" textLength="14.85" lengthAdjust="spacingAndGlyphs">TWIST1</text>
<line x1="344.80" y1="428.68" x2="348.20" y2="428.68" stroke="#222" stroke-width="0.8"/>
<rect x="348.20" y="432.72" width="79.70" height="2.60" fill="#c8102e"/>
<text x="344.30" y="435.52" font-size="4.4" text-anchor="end" fill="#111" font-weight="normal" textLength="7.66" lengthAdjust="spacingAndGlyphs">SP3</text>
<line x1="344.80" y1="434.02" x2="348.20" y2="434.02" stroke="#222" stroke-width="0.8"/>
<rect x="348.20" y="438.06" width="78.40" height="2.60" fill="#c8102e"/>
<text x="344.30" y="440.86" font-size="4.4" text-anchor="end" fill="#111" font-weight="normal" textLength="13.05" lengthAdjust="spacingAndGlyphs">NFKB1</text>
<line x1="344.80" y1="439.36" x2="348.20" y2="439.36" stroke="#222" stroke-width="0.8"/>
<line x1="348.20" y1="388.20" x2="348.20" y2="443.10" stroke="#1a1a1a" stroke-width="1.2"/>
<line x1="347.60" y1="442.50" x2="509.60" y2="442.50" stroke="#1a1a1a" stroke-width="1.3"/>
<line x1="348.20" y1="442.50" x2="348.20" y2="445.10" stroke="#222" stroke-width="0.8"/>
<text x="348.20" y="451.70" font-size="6.0" text-anchor="middle" fill="#111" font-weight="normal">0</text>
<line x1="377.62" y1="442.50" x2="377.62" y2="445.10" stroke="#222" stroke-width="0.8"/>
<text x="377.62" y="451.70" font-size="6.0" text-anchor="middle" fill="#111" font-weight="normal">1</text>
<line x1="407.04" y1="442.50" x2="407.04" y2="445.10" stroke="#222" stroke-width="0.8"/>
<text x="407.04" y="451.70" font-size="6.0" text-anchor="middle" fill="#111" font-weight="normal">2</text>
<line x1="436.46" y1="442.50" x2="436.46" y2="445.10" stroke="#222" stroke-width="0.8"/>
<text x="436.46" y="451.70" font-size="6.0" text-anchor="middle" fill="#111" font-weight="normal">3</text>
<line x1="465.88" y1="442.50" x2="465.88" y2="445.10" stroke="#222" stroke-width="0.8"/>
<text x="465.88" y="451.70" font-size="6.0" text-anchor="middle" fill="#111" font-weight="normal">4</text>
<line x1="495.30" y1="442.50" x2="495.30" y2="445.10" stroke="#222" stroke-width="0.8"/>
<text x="495.30" y="451.70" font-size="6.0" text-anchor="middle" fill="#111" font-weight="normal">5</text>
<text x="430.60" y="383.80" font-size="7.45" text-anchor="middle" fill="#1a1a1a" font-weight="normal">DT2D vs D2D</text>
<text x="429.20" y="462.00" font-size="8.8" text-anchor="middle" fill="#222" font-weight="normal" textLength="41.9" lengthAdjust="spacingAndGlyphs" stroke="#222" stroke-width="0.25">-log10(AdjPval)</text>
<text x="0" y="0" font-size="9.2" text-anchor="middle" fill="#1a1a1a" stroke="#1a1a1a" stroke-width="0.15" textLength="7.1" lengthAdjust="spacingAndGlyphs" transform="translate(324.40,414.40) rotate(-90)">TF</text>
<rect x="160.75" y="514.45" width="147.05" height="6.00" fill="#c8102e"/>
<text x="154.30" y="519.40" font-size="7.35" text-anchor="end" fill="#2a2a2a" font-weight="normal" textLength="97.8" lengthAdjust="spacingAndGlyphs">TNF-alpha signaling via NF-kB</text>
<line x1="157.90" y1="517.45" x2="160.75" y2="517.45" stroke="#222" stroke-width="0.9"/>
<rect x="160.75" y="526.82" width="147.05" height="6.00" fill="#c8102e"/>
<text x="154.30" y="531.77" font-size="7.35" text-anchor="end" fill="#2a2a2a" font-weight="normal" textLength="42.5" lengthAdjust="spacingAndGlyphs">p53 pathway</text>
<line x1="157.90" y1="529.82" x2="160.75" y2="529.82" stroke="#222" stroke-width="0.9"/>
<rect x="160.75" y="539.19" width="91.35" height="6.00" fill="#c8102e"/>
<text x="154.30" y="544.14" font-size="7.35" text-anchor="end" fill="#2a2a2a" font-weight="normal" textLength="62.1" lengthAdjust="spacingAndGlyphs">TGF-beta signaling</text>
<line x1="157.90" y1="542.19" x2="160.75" y2="542.19" stroke="#222" stroke-width="0.9"/>
<rect x="160.75" y="551.56" width="81.35" height="6.00" fill="#c8102e"/>
<text x="154.30" y="556.51" font-size="7.35" text-anchor="end" fill="#2a2a2a" font-weight="normal" textLength="25.8" lengthAdjust="spacingAndGlyphs">Hypoxia</text>
<line x1="157.90" y1="554.56" x2="160.75" y2="554.56" stroke="#222" stroke-width="0.9"/>
<rect x="160.75" y="563.93" width="80.95" height="6.00" fill="#c8102e"/>
<text x="154.30" y="568.88" font-size="7.35" text-anchor="end" fill="#2a2a2a" font-weight="normal" textLength="32.8" lengthAdjust="spacingAndGlyphs">Apoptosis</text>
<line x1="157.90" y1="566.93" x2="160.75" y2="566.93" stroke="#222" stroke-width="0.9"/>
<rect x="160.75" y="576.30" width="80.25" height="6.00" fill="#c8102e"/>
<text x="154.30" y="581.25" font-size="7.35" text-anchor="end" fill="#2a2a2a" font-weight="normal" textLength="58.6" lengthAdjust="spacingAndGlyphs">Heme metabolism</text>
<line x1="157.90" y1="579.30" x2="160.75" y2="579.30" stroke="#222" stroke-width="0.9"/>
<rect x="160.75" y="588.67" width="80.25" height="6.00" fill="#c8102e"/>
<text x="154.30" y="593.62" font-size="7.35" text-anchor="end" fill="#2a2a2a" font-weight="normal" textLength="87.0" lengthAdjust="spacingAndGlyphs">Unfolded protein response</text>
<line x1="157.90" y1="591.67" x2="160.75" y2="591.67" stroke="#222" stroke-width="0.9"/>
<rect x="160.75" y="601.04" width="79.65" height="6.00" fill="#c8102e"/>
<text x="154.30" y="605.99" font-size="7.35" text-anchor="end" fill="#2a2a2a" font-weight="normal" textLength="64.4" lengthAdjust="spacingAndGlyphs">Androgen response</text>
<line x1="157.90" y1="604.04" x2="160.75" y2="604.04" stroke="#222" stroke-width="0.9"/>
<rect x="160.75" y="613.41" width="79.25" height="6.00" fill="#c8102e"/>
<text x="154.30" y="618.36" font-size="7.35" text-anchor="end" fill="#2a2a2a" font-weight="normal" textLength="55.1" lengthAdjust="spacingAndGlyphs">Protein secretion</text>
<line x1="157.90" y1="616.41" x2="160.75" y2="616.41" stroke="#222" stroke-width="0.9"/>
<rect x="160.75" y="625.78" width="77.95" height="6.00" fill="#c8102e"/>
<text x="154.30" y="630.73" font-size="7.35" text-anchor="end" fill="#2a2a2a" font-weight="normal" textLength="87.5" lengthAdjust="spacingAndGlyphs">PI3K/AKT/mTOR signaling</text>
<line x1="157.90" y1="628.78" x2="160.75" y2="628.78" stroke="#222" stroke-width="0.9"/>
<line x1="160.75" y1="509.50" x2="160.75" y2="636.80" stroke="#1a1a1a" stroke-width="1.1"/>
<line x1="160.25" y1="636.20" x2="247.30" y2="636.20" stroke="#1a1a1a" stroke-width="1.1"/>
<line x1="160.75" y1="636.20" x2="160.75" y2="638.90" stroke="#222" stroke-width="0.9"/>
<text x="160.75" y="647.70" font-size="7.4" text-anchor="middle" fill="#222" font-weight="normal">0</text>
<line x1="182.31" y1="636.20" x2="182.31" y2="638.90" stroke="#222" stroke-width="0.9"/>
<text x="182.31" y="647.70" font-size="7.4" text-anchor="middle" fill="#222" font-weight="normal">4</text>
<line x1="203.87" y1="636.20" x2="203.87" y2="638.90" stroke="#222" stroke-width="0.9"/>
<text x="203.87" y="647.70" font-size="7.4" text-anchor="middle" fill="#222" font-weight="normal">8</text>
<line x1="225.43" y1="636.20" x2="225.43" y2="638.90" stroke="#222" stroke-width="0.9"/>
<text x="225.43" y="647.70" font-size="7.4" text-anchor="middle" fill="#222" font-weight="normal">12</text>
<line x1="246.99" y1="636.20" x2="246.99" y2="638.90" stroke="#222" stroke-width="0.9"/>
<text x="246.99" y="647.70" font-size="7.4" text-anchor="middle" fill="#222" font-weight="normal">16</text>
<text x="204.00" y="660.80" font-size="8.8" text-anchor="middle" fill="#222" font-weight="normal" textLength="42.0" lengthAdjust="spacingAndGlyphs" stroke="#222" stroke-width="0.25">-log10(AdjPval)</text>
<text x="197.10" y="503.50" font-size="9.0" text-anchor="middle" fill="#1a1a1a" font-weight="normal">FL B cells vs CC</text>
<text x="0" y="0" font-size="9" text-anchor="middle" fill="#1a1a1a" font-weight="bold" stroke="#1a1a1a" stroke-width="0.05" textLength="49.3" lengthAdjust="spacingAndGlyphs" transform="translate(43.0,573.0) rotate(-90)">HallMark MSigDB</text>
</svg>
</body></html>
